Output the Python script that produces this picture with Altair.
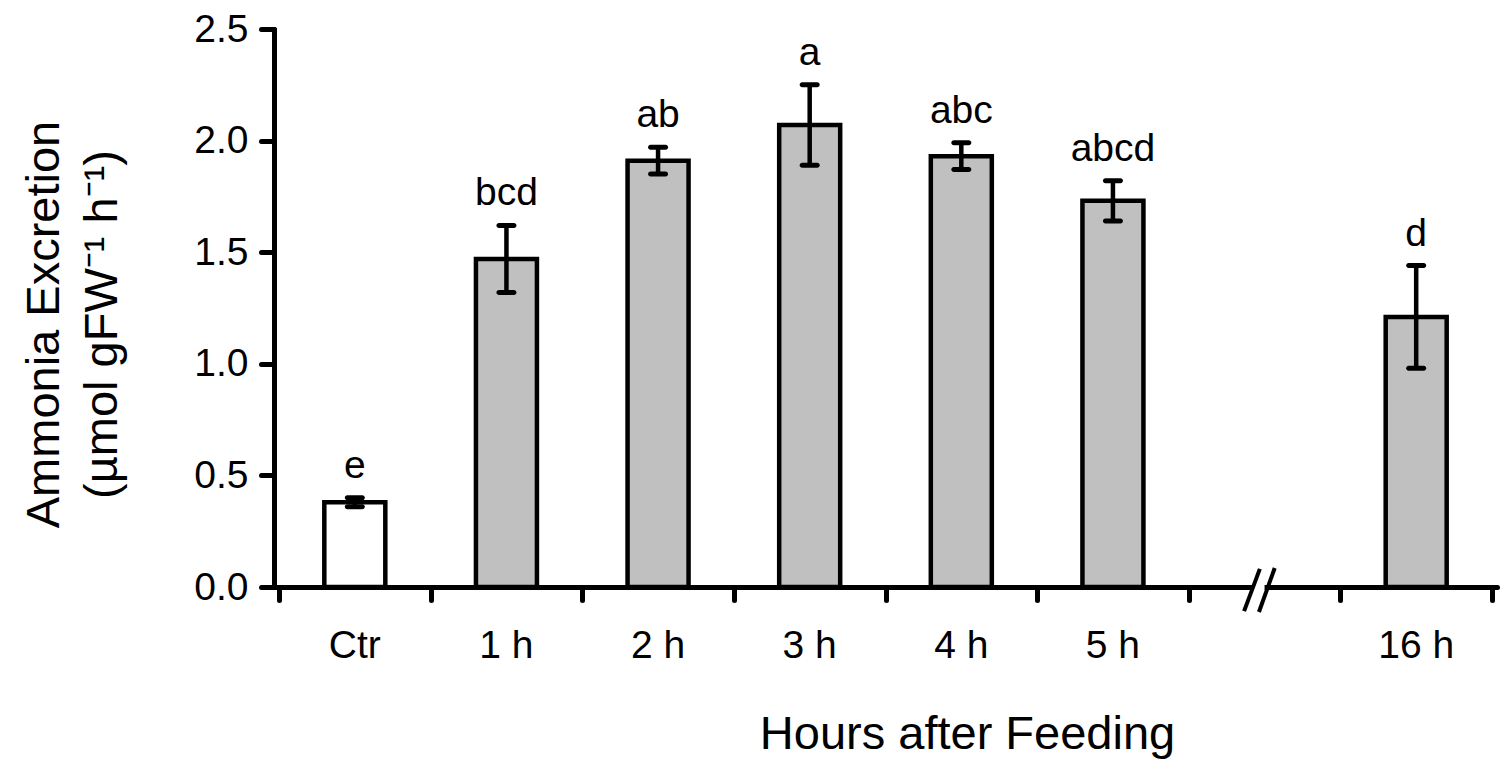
import altair as alt
import pandas as pd

# ---- data ----
categories = ["Ctr", "1 h", "2 h", "3 h", "4 h", "5 h", "16 h"]
slots = [0, 1, 2, 3, 4, 5, 7]          # slot 6 is the axis break
means = [0.38, 1.47, 1.91, 2.07, 1.93, 1.73, 1.21]
ses = [0.02, 0.15, 0.06, 0.18, 0.06, 0.09, 0.23]
letters = ["e", "bcd", "ab", "a", "abc", "abcd", "d"]
groups = ["control", "fed", "fed", "fed", "fed", "fed", "fed"]

y_ticks = [0.0, 0.5, 1.0, 1.5, 2.0, 2.5]
x_ticks = list(range(9))

# axis-break decoration (in data units)
brk = pd.DataFrame({
    "x": [6.365, 6.463], "x2": [6.469, 6.567],
    "y": [-0.108, -0.112], "y2": [0.081, 0.085],
})
gap = pd.DataFrame({"x": [6.43], "x2": [6.50], "y": [0.0]})

df = pd.DataFrame({
    "cat": categories, "slot": slots, "mean": means, "se": ses,
    "letter": letters, "group": groups,
})

FONT = "Liberation Sans"
W, H = 1223, 558
LW = 5

base = alt.Chart(df).transform_calculate(
    pos="datum.slot + 0.5",
    lo="datum.mean - datum.se",
    hi="datum.mean + datum.se",
)

xscale = alt.Scale(domain=[0, 8], nice=False, zero=False)
yscale = alt.Scale(domain=[0, 2.5], nice=False)

x_enc = alt.X("pos:Q", scale=xscale, axis=alt.Axis(
    values=x_ticks, labels=False, grid=False,
    tickSize=13, tickWidth=LW, tickColor="black", tickCap="round",
    domainWidth=LW, domainColor="black", domainCap="round",
    title="Hours after Feeding", titleFont=FONT, titleFontSize=47,
    titleFontWeight="normal", titleColor="black",
    titleX=693, titleY=161, titleAlign="center", titleBaseline="alphabetic",
))

bars = base.mark_bar(size=61, stroke="black", strokeWidth=4.5).encode(
    x=x_enc,
    y=alt.Y("mean:Q", scale=yscale, axis=alt.Axis(
        values=y_ticks, format=".1f", grid=False,
        labelFont=FONT, labelFontSize=39, labelColor="black", labelPadding=13,
        tickSize=13, tickWidth=LW, tickColor="black", tickCap="round",
        domainWidth=LW, domainColor="black", domainCap="round",
        title=["Ammonia Excretion", "(µmol gFW⁻¹ h⁻¹)"],
        titleFont=FONT, titleFontSize=47, titleFontWeight="normal",
        titleColor="black", titleAngle=-90, titleLineHeight=58,
        titleX=-216, titleY=295, titleAlign="center",
        titleBaseline="alphabetic",
    )),
    fill=alt.Fill("group:N", scale=alt.Scale(domain=["control", "fed"],
                                             range=["#ffffff", "#c0c0c0"]),
                  legend=None),
)

err = base.mark_rule(strokeWidth=4.5, color="black").encode(
    x="pos:Q", y="lo:Q", y2="hi:Q")
cap_lo = base.mark_tick(orient="horizontal", size=20, thickness=5,
                        color="black", cornerRadius=2.5, opacity=1).encode(
    x="pos:Q", y="lo:Q")
cap_hi = base.mark_tick(orient="horizontal", size=20, thickness=5,
                        color="black", cornerRadius=2.5, opacity=1).encode(
    x="pos:Q", y="hi:Q")

sig = base.mark_text(font=FONT, fontSize=39, baseline="alphabetic",
                     align="center", dy=-20, color="black").encode(
    x="pos:Q", y="hi:Q", text="letter:N")

cat_labels = base.mark_text(font=FONT, fontSize=39, baseline="alphabetic",
                            align="center", color="black").encode(
    x="pos:Q", y=alt.value(629), text="cat:N")

gap_mark = alt.Chart(gap).mark_rule(color="white", strokeWidth=9).encode(
    x="x:Q", x2="x2:Q", y="y:Q")
slashes = alt.Chart(brk).mark_rule(color="black", strokeWidth=4).encode(
    x="x:Q", x2="x2:Q", y="y:Q", y2="y2:Q")

chart = alt.layer(
    bars, err, cap_lo, cap_hi, sig, cat_labels, gap_mark, slashes
).properties(
    width=W, height=H,
    autosize=alt.AutoSizeParams(type="none"),
    padding={"left": 274, "top": 29, "right": 4, "bottom": 176},
    background="white",
).configure_view(stroke=None)

chart.save("out.html", embed_options={"renderer": "svg", "actions": False})
